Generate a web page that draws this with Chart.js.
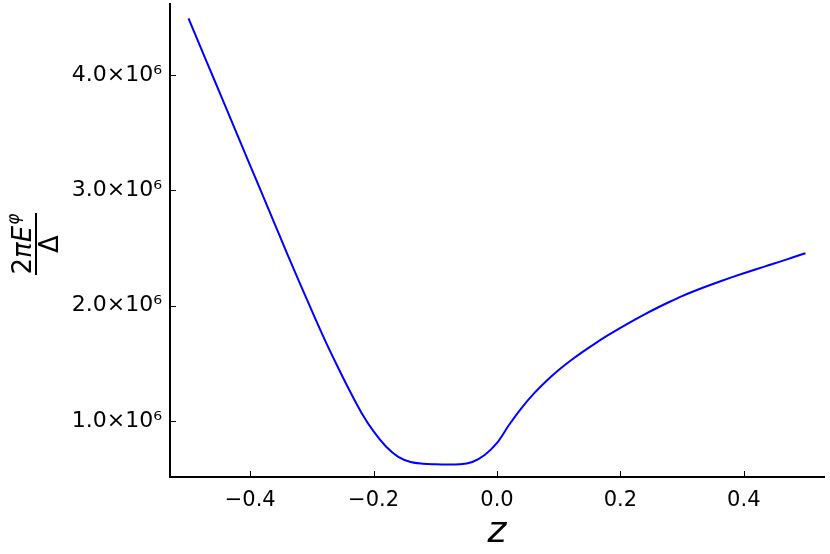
<!DOCTYPE html>
<html>
<head>
<meta charset="utf-8">
<script src="https://cdn.jsdelivr.net/npm/chart.js@4/dist/chart.umd.min.js"></script>
<style>
  html, body { margin: 0; padding: 0; background: #fff; }
  canvas { display: block; }
</style>
</head>
<body>
<canvas id="plot" width="830" height="554"></canvas>
<script>
// z positions and energy values
const zValues = [
    -0.50, -0.48, -0.46, -0.44, -0.42, -0.40, -0.38, -0.36, -0.34, -0.32,
    -0.30, -0.28, -0.26, -0.24, -0.22, -0.20, -0.18, -0.16, -0.14, -0.12,
    -0.10, -0.08, -0.06, -0.04, -0.02, 0.00, 0.02, 0.04, 0.06, 0.08,
    0.10, 0.12, 0.14, 0.16, 0.18, 0.20, 0.22, 0.24, 0.26, 0.28,
    0.30, 0.32, 0.34, 0.36, 0.38, 0.40, 0.42, 0.44, 0.46, 0.48, 0.50
];
const energyValues = [
    4.49e6, 4.235e6, 3.98e6, 3.725e6, 3.47e6, 3.215e6, 2.96e6, 2.705e6, 2.45e6, 2.20e6,
    1.955e6, 1.715e6, 1.49e6, 1.275e6, 1.075e6, 0.91e6, 0.78e6, 0.69e6, 0.645e6, 0.630e6,
    0.625e6, 0.623e6, 0.625e6, 0.645e6, 0.705e6, 0.81e6, 0.97e6, 1.115e6, 1.24e6, 1.348e6,
    1.443e6, 1.527e6, 1.604e6, 1.676e6, 1.744e6, 1.808e6, 1.869e6, 1.927e6, 1.982e6, 2.034e6,
    2.083e6, 2.127e6, 2.168e6, 2.207e6, 2.245e6, 2.281e6, 2.316e6, 2.35e6, 2.384e6, 2.42e6, 2.455e6
];
const xTickValues = [-0.4, -0.2, 0.0, 0.2, 0.4];
const yTickValues = [1e6, 2e6, 3e6, 4e6];

const FONT = "'DejaVu Sans', sans-serif";

// ticks pointing into the plot + the fraction label on the y axis
const decorPlugin = {
    id: 'decor',
    afterDraw(chart) {
        const ctx = chart.ctx;
        const area = chart.chartArea;
        const xs = chart.scales.x, ys = chart.scales.y;
        ctx.save();
        ctx.strokeStyle = '#000';
        ctx.lineWidth = 1;
        xTickValues.forEach(v => {
            const px = Math.round(xs.getPixelForValue(v)) + 0.5;
            ctx.beginPath();
            ctx.moveTo(px, area.bottom);
            ctx.lineTo(px, area.bottom - 6);
            ctx.stroke();
        });
        yTickValues.forEach(v => {
            const py = Math.round(ys.getPixelForValue(v)) + 0.5;
            ctx.beginPath();
            ctx.moveTo(area.left, py);
            ctx.lineTo(area.left + 6, py);
            ctx.stroke();
        });

        // 2πE^φ / Δ, rotated
        ctx.translate(36, 244);
        ctx.rotate(-Math.PI / 2);
        ctx.fillStyle = '#000';
        ctx.textBaseline = 'alphabetic';
        ctx.textAlign = 'left';
        const fUp = '26px ' + FONT, fIt = 'italic 26px ' + FONT, fSup = 'italic 17px ' + FONT;
        ctx.font = fUp; const w2 = ctx.measureText('2').width;
        ctx.font = fIt; const wPE = ctx.measureText('πE').width;
        ctx.font = fSup; const wPhi = ctx.measureText('φ').width;
        let x0 = -(w2 + wPE + wPhi + 1) / 2;
        ctx.font = fUp; ctx.fillText('2', x0, -5);
        ctx.font = fIt; ctx.fillText('πE', x0 + w2, -5);
        ctx.font = fSup; ctx.fillText('φ', x0 + w2 + wPE + 1, -17);
        ctx.lineWidth = 2;
        ctx.beginPath();
        ctx.moveTo(-31, 0);
        ctx.lineTo(31, 0);
        ctx.stroke();
        ctx.font = '26px ' + FONT;
        ctx.textAlign = 'center';
        ctx.fillText('Δ', 0, 22);
        ctx.restore();
    }
};

const ctx = document.getElementById('plot').getContext('2d');
new Chart(ctx, {
    type: 'line',
    data: {
        datasets: [{
            data: zValues.map((z, i) => ({ x: z, y: energyValues[i] })),
            borderColor: '#0000ff',
            borderWidth: 2,
            pointRadius: 0,
            fill: false,
            cubicInterpolationMode: 'monotone'
        }]
    },
    options: {
        responsive: false,
        animation: false,
        layout: { padding: { top: 4, right: 6, left: 0, bottom: 0 } },
        plugins: { legend: { display: false }, tooltip: { enabled: false } },
        scales: {
            x: {
                type: 'linear',
                min: -0.53, max: 0.53,
                grid: { display: false, drawTicks: false },
                border: { display: true, color: '#000', width: 2 },
                afterBuildTicks: s => { s.ticks = xTickValues.map(v => ({ value: v })); },
                afterFit: s => { s.height = 77; s.paddingLeft = 0; s.paddingRight = 0; },
                ticks: {
                    color: '#000',
                    padding: 11,
                    maxRotation: 0,
                    font: { family: FONT, size: 21 },
                    callback: v => v.toFixed(1).replace('-', '\u2212')
                },
                title: {
                    display: true,
                    text: 'z',
                    color: '#000',
                    font: { family: FONT, size: 36, style: 'italic' },
                    padding: { top: 0, bottom: 0 }
                }
            },
            y: {
                type: 'linear',
                min: 0.515e6, max: 4.615e6,
                grid: { display: false, drawTicks: false },
                border: { display: true, color: '#000', width: 2 },
                afterBuildTicks: s => { s.ticks = yTickValues.map(v => ({ value: v })); },
                afterFit: s => { s.width = 170; s.paddingTop = 0; s.paddingBottom = 0; },
                ticks: {
                    color: '#000',
                    padding: 8,
                    font: { family: FONT, size: 22 },
                    callback: v => (v / 1e6).toFixed(1) + '×10\u2076'
                }
            }
        }
    },
    plugins: [decorPlugin]
});
</script>
</body>
</html>
